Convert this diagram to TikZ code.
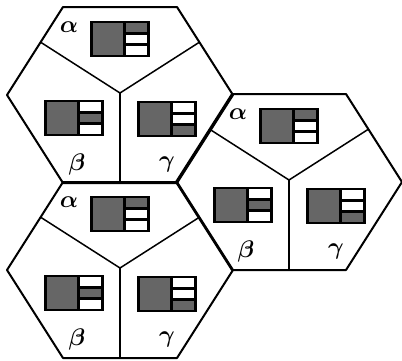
\documentclass[tikz,border=0pt]{standalone}
\usepackage{tikz}
\usetikzlibrary{calc}
\tikzset{
  hexline/.style={line width=1pt,line join=round},
  splitline/.style={line width=0.75pt},
  boxline/.style={line width=1.3pt},
  busy/.style={fill=black!60},
  cellname/.style={inner sep=0pt,font=\large\boldmath},
}
% channel box: centre x, centre y, busy row (1..3)
\newcommand{\chanbox}[3]{%
\begin{scope}[shift={(#1,#2)}]
  \fill[busy] (-28.5,-17) rectangle (4.5,17);
  \fill[busy] (4.5,{-17+(#3-1)*34/3}) rectangle (28.5,{-17+#3*34/3});
  \foreach \r in {1,2} \draw[boxline] (4.5,{-17+\r*34/3}) -- (28.5,{-17+\r*34/3});
  \draw[boxline] (4.5,-17) -- (4.5,17);
  \draw[boxline] (-28.5,-17) rectangle (28.5,17);
\end{scope}}
% hexagonal cell: name, centre x, centre y
\newcommand{\hexcell}[3]{%
\begin{scope}[shift={(#2,#3)}]
  \coordinate (#1-l) at (-113,0);
  \coordinate (#1-tl) at (-57,-88);
  \coordinate (#1-tr) at (57,-88);
  \coordinate (#1-r) at (113,0);
  \coordinate (#1-br) at (57,88);
  \coordinate (#1-bl) at (-57,88);
  \coordinate (#1-c) at (0,-2);
  \coordinate (#1-b) at (0,88);
  \draw[hexline] (#1-l) -- (#1-tl) -- (#1-tr) -- (#1-r) -- (#1-br) -- (#1-bl) -- cycle;
  \draw[splitline] ($(#1-l)!0.6!(#1-tl)$) -- (#1-c) -- ($(#1-r)!0.6!(#1-tr)$);
  \draw[splitline] (#1-c) -- (#1-b);
  \chanbox{0}{-56}{1}
  \chanbox{-46}{23}{2}
  \chanbox{47}{24}{3}
  \node[cellname] (#1-a) at (-51,-68) {$\alpha$};
  \node[cellname] (#1-bt) at (-43,69) {$\beta$};
  \node[cellname] (#1-g) at (47,69) {$\gamma$};
\end{scope}}

\begin{document}
\begin{tikzpicture}[x=0.5pt,y=-0.5pt]
\useasboundingbox (0,0) rectangle (402,360);
\hexcell{top}{120}{95}
\hexcell{right}{289}{182}
\hexcell{low}{120}{270}
\end{tikzpicture}
\end{document}
